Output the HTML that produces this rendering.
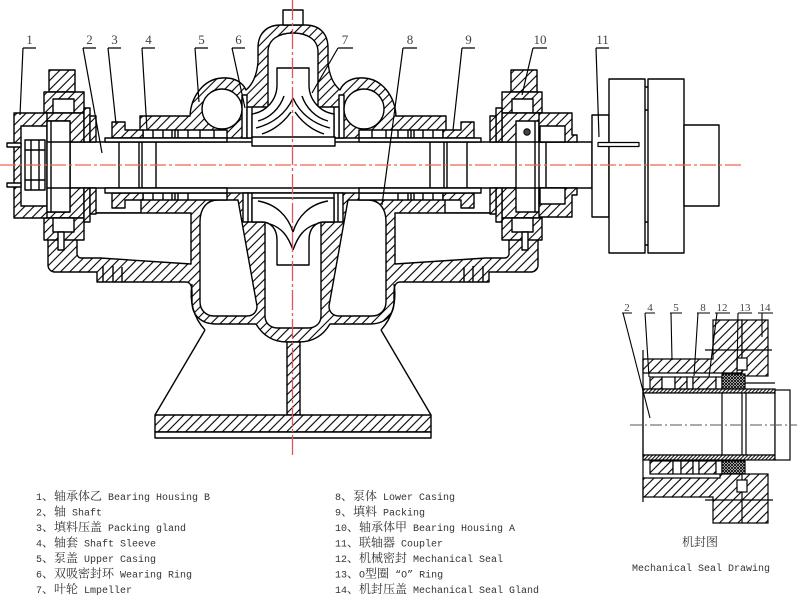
<!DOCTYPE html>
<html><head><meta charset="utf-8"><style>
html,body{margin:0;padding:0;background:#fff;}
svg{display:block}
</style></head><body>
<svg width="800" height="598" viewBox="0 0 800 598" xmlns="http://www.w3.org/2000/svg" xmlns:xlink="http://www.w3.org/1999/xlink">
<defs>
<pattern id="h" patternUnits="userSpaceOnUse" width="6.5" height="6.5" patternTransform="rotate(45)"><rect width="6.5" height="6.5" fill="#fff"/><line x1="1" y1="0" x2="1" y2="6.5" stroke="#000" stroke-width="1.1"/></pattern>
<pattern id="hm" patternUnits="userSpaceOnUse" width="6.5" height="6.5" patternTransform="rotate(-45)"><rect width="6.5" height="6.5" fill="#fff"/><line x1="1" y1="0" x2="1" y2="6.5" stroke="#000" stroke-width="1.1"/></pattern>
<pattern id="d" patternUnits="userSpaceOnUse" width="2.6" height="2.6" patternTransform="rotate(45)"><rect width="2.6" height="2.6" fill="#fff"/><line x1="0.6" y1="0" x2="0.6" y2="2.6" stroke="#000" stroke-width="1"/></pattern>
<pattern id="x" patternUnits="userSpaceOnUse" width="3" height="3"><rect width="3" height="3" fill="#fff"/><path d="M0,0L3,3M3,0L0,3" stroke="#000" stroke-width="0.9"/></pattern>

<g id="L">
 <path d="M293,25 H281 C266,25 258,34 258,48 V62 C257,74 253,84 246,90 C243,83 235,77 222,78 C204,79 191,96 190,116 H140 V138 H293"/>
 <rect x="242" y="95" width="5" height="43" fill="#fff"/>
 <circle cx="222" cy="109" r="20" fill="#fff"/>
 <path d="M293,33 C278,33 268,40 268,52 V107 H247 V138 H293" fill="#fff"/>
 <path d="M252,107 V138" fill="none"/>
 <path d="M293,68 H277 V85 C277,100 266,112 252,114 V138 H293" fill="#fff"/>
 <path d="M293,98 C286,114 272,124 256,128 M291,112 C284,122 274,130 262,134 M284,96 C280,108 270,118 258,121" fill="none"/>
 <rect x="143" y="130" width="84" height="8" fill="#fff"/>
 <path d="M153,130V138M163,130V138M172,130V138M175,130V138M178,130V138M188,130V138M200,130V138M214,130V138" fill="none"/>
 <path d="M112,122 H125 V130 H143 V138 H112 Z"/>

 <path d="M293,193 H141 V213 H48 V265 C48,269 51,272 55,272 H97 V282 H186 C190,282 192,286 192,292 V302 C192,316 202,324 216,324 H256 C262,334 272,342 287,342 H293"/>
 <path d="M77,213 H191 V264 L100,258 H81 C79,258 77,256 77,254 Z" fill="#fff"/>
 <path d="M200,222 C200,208 207,200 218,200 H238 L257,306 C257,312 253,316 247,316 H214 C206,316 200,310 200,302 Z" fill="#fff"/>
 <path d="M293,222 H265 V316 C265,323 270,328 278,328 H293" fill="#fff"/>
 <path d="M293,193 H243 V222 H293" fill="#fff"/>
 <path d="M248,193 V222 M252,193 V222" fill="none"/>
 <path d="M293,265 H277 V240 C277,228 270,222 262,222 H252 V198 H293" fill="#fff"/>
 <path d="M293,232 C288,216 276,204 258,201 M293,250 C288,236 282,228 270,224" fill="none"/>
 <rect x="143" y="193" width="84" height="7" fill="#fff"/>
 <path d="M153,193V200M163,193V200M172,193V200M175,193V200M178,193V200M188,193V200" fill="none"/>
 <path d="M112,208 H125 V200 H143 V193 H112 Z"/>
 <path d="M192,284 C189,302 194,318 205,330" fill="none"/>
 <path d="M205,330 L155,415" fill="none"/>
 <path d="M103,266 V282 M122,267 V282 M113,266 V282" fill="none"/>
 <rect x="105" y="138" width="122" height="4" fill="#fff"/>
 <rect x="105" y="188" width="122" height="5" fill="#fff"/>

 <rect x="49" y="70" width="26" height="22"/>
 <rect x="44" y="92" width="40" height="21"/>
 <rect x="53" y="99" width="21" height="14" fill="#fff"/>
 <rect x="44" y="113" width="40" height="29"/>
 <rect x="44" y="188" width="40" height="30"/>
 <rect x="44" y="218" width="40" height="22"/>
 <rect x="53" y="218" width="21" height="14" fill="#fff"/>
 <rect x="58" y="232" width="6" height="18" fill="#fff"/>
 <rect x="84" y="108" width="6" height="34"/>
 <rect x="90" y="116" width="6" height="26"/>
 <rect x="84" y="188" width="6" height="34"/>
 <rect x="90" y="188" width="6" height="26"/>
 <rect x="47" y="121" width="23" height="91" fill="#fff"/>
 <path d="M47,142 H70 M47,188 H70 M51,121 V212" fill="none"/>
</g>
</defs>

<g stroke="#000" stroke-width="1.4" stroke-linejoin="round">
 <rect x="70" y="142" width="522" height="46" fill="#fff"/>
 <path d="M119,142V188M139,142V188M142,142V188M156,142V188M430,142V188M444,142V188M447,142V188M467,142V188" fill="none"/>

 <use href="#L" xlink:href="#L" fill="url(#h)"/>
 <use href="#L" xlink:href="#L" fill="url(#hm)" transform="matrix(-1 0 0 1 586 0)"/>

 <rect x="283" y="10" width="20" height="15" fill="#fff"/>
 <rect x="252" y="137" width="83" height="9" fill="#fff"/>

 <rect x="287" y="342" width="13" height="73" fill="url(#h)"/>
 <rect x="155" y="415" width="276" height="17" fill="url(#h)"/>
 <rect x="155" y="432" width="276" height="6" fill="#fff"/>

 <rect x="14" y="113" width="33" height="105" fill="url(#h)"/>
 <rect x="21" y="126" width="26" height="80" fill="#fff"/>
 <rect x="25" y="140" width="20" height="50" fill="#fff"/>
 <path d="M31,140V190M39,140V190M25,150H45M25,180H45" fill="none"/>
 <rect x="7" y="143" width="14" height="4" fill="#fff"/>
 <rect x="7" y="183" width="14" height="4" fill="#fff"/>
 <rect x="47" y="121" width="23" height="91" fill="#fff"/>
 <path d="M47,142 H70 M47,188 H70 M51,121 V212" fill="none"/>

 <path d="M539,113 H572 V135 H577 V142 H539 Z" fill="url(#h)"/>
 <path d="M539,188 H577 V195 H572 V217 H539 Z" fill="url(#h)"/>
 <rect x="540" y="126" width="25" height="16" fill="#fff"/>
 <rect x="540" y="188" width="25" height="16" fill="#fff"/>
 <path d="M546,142V188" fill="none"/>
 <circle cx="527" cy="132" r="3.2" fill="#444" stroke-width="1"/>

 <rect x="592" y="115" width="17" height="102" fill="#fff"/>
 <rect x="609" y="79" width="36" height="174" fill="#fff"/>
 <rect x="648" y="79" width="36" height="174" fill="#fff"/>
 <path d="M645,87H648M645,110H648M645,222H648M645,245H648" fill="none"/>
 <rect x="684" y="125" width="35" height="81" fill="#fff"/>
 <rect x="598" y="142.5" width="41" height="4" fill="#fff" stroke-width="1.2"/>

 <path fill="none" stroke-width="1.2" d="M23,48H36M23,48L20,115 M83,48H96M83,48L102,153 M108,48H121M108,48L116,124 M142,48H155M142,48L147,130 M195,48H208M195,48L199,102 M232,48H245M232,48L245,108 M338,48H353M338,48L312,93 M403,48H417M403,48L382,205 M462,48H475M462,48L453,130 M533,48H547M533,48L522,95 M596,48H609M596,48L599,137"/>
</g>

<g font-family="Liberation Serif, serif" font-size="13" fill="#444" text-anchor="middle">
 <text x="29.5" y="44">1</text><text x="89.5" y="44">2</text><text x="114.5" y="44">3</text><text x="148.5" y="44">4</text>
 <text x="201.5" y="44">5</text><text x="238.5" y="44">6</text><text x="345" y="44">7</text><text x="410" y="44">8</text>
 <text x="468.5" y="44">9</text><text x="540" y="44">10</text><text x="602.5" y="44">11</text>
</g>

<line x1="0" y1="165" x2="742" y2="165" stroke="#f0634c" stroke-width="1.3" stroke-dasharray="16 3 3 3"/>
<line x1="292.5" y1="0" x2="292.5" y2="456" stroke="#e0555a" stroke-width="1.3" stroke-dasharray="20 3 3 3"/>

<g stroke="#000" stroke-width="1.2">
 <path d="M643,359 H713 V320 H742 V373 H643 Z" fill="url(#h)"/>
 <rect x="742" y="320" width="26" height="56" fill="url(#h)"/>
 <rect x="737" y="358" width="10" height="12" fill="#fff"/>
 <rect x="650" y="377" width="12" height="12" fill="url(#h)"/>
 <rect x="662" y="377" width="13" height="12" fill="#fff"/>
 <rect x="675" y="377" width="12" height="12" fill="url(#h)"/>
 <rect x="687" y="377" width="6" height="12" fill="#fff"/>
 <rect x="693" y="377" width="23" height="12" fill="url(#h)"/>
 <rect x="716" y="377" width="6" height="12" fill="#fff"/>
 <rect x="722" y="374" width="23" height="15" fill="url(#x)"/>
 <rect x="643" y="389" width="132" height="4" fill="url(#d)"/>
 <rect x="643" y="393" width="132" height="62" fill="#fff"/>
 <rect x="643" y="455" width="132" height="5" fill="url(#d)"/>
 <path d="M722,393V455M742,393V455M746,393V455" fill="none"/>
 <rect x="775" y="390" width="15" height="70" fill="#fff"/>
 <rect x="650" y="461" width="23" height="13" fill="url(#h)"/>
 <rect x="673" y="461" width="8" height="13" fill="#fff"/>
 <rect x="681" y="461" width="12" height="13" fill="url(#h)"/>
 <rect x="693" y="461" width="6" height="13" fill="#fff"/>
 <rect x="699" y="461" width="17" height="13" fill="url(#h)"/>
 <rect x="716" y="461" width="6" height="13" fill="#fff"/>
 <rect x="722" y="461" width="23" height="15" fill="url(#x)"/>
 <path d="M643,478 H720 V474 H768 V523 H713 V497 H643 Z" fill="url(#h)"/>
 <path d="M742,474V523" fill="none"/>
 <rect x="737" y="480" width="10" height="12" fill="#fff"/>
 <path d="M705,350H772M705,500H773M745,383H775M643,350V502" fill="none"/>
 <path fill="none" stroke-width="1.1" d="M622,313H632M623,313L650,418 M645,313H655M645,313L649,377 M670,313H682M671,313L672,360 M697,313H710M698,313L694,376 M715,313H730M717,313L709,377 M738,313H752M738,313L737,375 M758,313H773M762,313L762,337"/>
</g>
<line x1="630" y1="425" x2="797" y2="425" stroke="#555" stroke-width="1" stroke-dasharray="12 3 2 3"/>
<g font-family="Liberation Serif, serif" font-size="11" fill="#444" text-anchor="middle">
 <text x="627" y="311">2</text><text x="650" y="311">4</text><text x="676" y="311">5</text><text x="703" y="311">8</text>
 <text x="722" y="311">12</text><text x="745" y="311">13</text><text x="765" y="311">14</text>
</g>
<text x="700" y="546" text-anchor="middle" font-family="Liberation Serif, 'Noto Serif CJK SC', serif" font-size="12" fill="#333">机封图</text>
<text x="632" y="571" font-family="Liberation Mono, monospace" font-size="10" fill="#333">Mechanical Seal Drawing</text>

<g font-family="Liberation Mono, 'Noto Serif CJK SC', monospace" font-size="10" fill="#333">
 <text x="36" y="500">1<tspan font-size="12" font-family="'Noto Serif CJK SC', serif">、轴承体乙</tspan> Bearing Housing B</text>
 <text x="36" y="515.5">2<tspan font-size="12" font-family="'Noto Serif CJK SC', serif">、轴</tspan> Shaft</text>
 <text x="36" y="531">3<tspan font-size="12" font-family="'Noto Serif CJK SC', serif">、填料压盖</tspan> Packing gland</text>
 <text x="36" y="546.5">4<tspan font-size="12" font-family="'Noto Serif CJK SC', serif">、轴套</tspan> Shaft Sleeve</text>
 <text x="36" y="562">5<tspan font-size="12" font-family="'Noto Serif CJK SC', serif">、泵盖</tspan> Upper Casing</text>
 <text x="36" y="577.5">6<tspan font-size="12" font-family="'Noto Serif CJK SC', serif">、双吸密封环</tspan> Wearing Ring</text>
 <text x="36" y="593">7<tspan font-size="12" font-family="'Noto Serif CJK SC', serif">、叶轮</tspan> Lmpeller</text>
 <text x="335" y="500">8<tspan font-size="12" font-family="'Noto Serif CJK SC', serif">、泵体</tspan> Lower Casing</text>
 <text x="335" y="515.5">9<tspan font-size="12" font-family="'Noto Serif CJK SC', serif">、填料</tspan> Packing</text>
 <text x="335" y="531">10<tspan font-size="12" font-family="'Noto Serif CJK SC', serif">、轴承体甲</tspan> Bearing Housing A</text>
 <text x="335" y="546.5">11<tspan font-size="12" font-family="'Noto Serif CJK SC', serif">、联轴器</tspan> Coupler</text>
 <text x="335" y="562">12<tspan font-size="12" font-family="'Noto Serif CJK SC', serif">、机械密封</tspan> Mechanical Seal</text>
 <text x="335" y="577.5">13<tspan font-size="12" font-family="'Noto Serif CJK SC', serif">、</tspan>O<tspan font-size="12" font-family="'Noto Serif CJK SC', serif">型圈</tspan> “O” Ring</text>
 <text x="335" y="593">14<tspan font-size="12" font-family="'Noto Serif CJK SC', serif">、机封压盖</tspan> Mechanical Seal Gland</text>
</g>
</svg>
</body></html>
